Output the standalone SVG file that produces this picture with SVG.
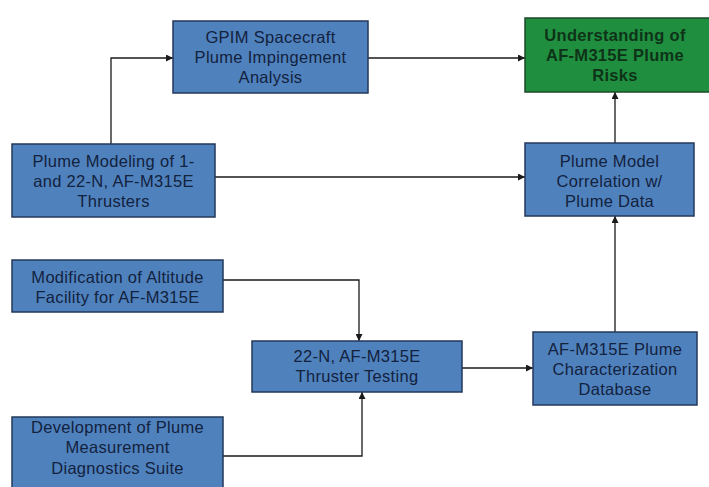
<svg xmlns="http://www.w3.org/2000/svg" width="709" height="487" viewBox="0 0 709 487">
<defs>
<marker id="ah" viewBox="0 0 10 10" refX="10" refY="5" markerWidth="7" markerHeight="7" markerUnits="userSpaceOnUse" orient="auto">
<path d="M0,0 L10,5 L0,10 z" fill="#1a1a1a"/>
</marker>
<style>
.box{fill:#4f81bd;stroke:#24395a;stroke-width:1.5}
.gbox{fill:#1f8f3f;stroke:#1d4a2a;stroke-width:1.5}
.t{font-family:"Liberation Sans",Arial,sans-serif;font-size:16.5px;fill:#13223d;text-anchor:middle;letter-spacing:0.3px}
.gt{font-family:"Liberation Sans",Arial,sans-serif;font-size:16.5px;font-weight:bold;fill:#0e3318;text-anchor:middle;letter-spacing:0.3px}
.c{fill:none;stroke:#1a1a1a;stroke-width:1.3;marker-end:url(#ah)}
</style>
</defs>
<rect width="709" height="487" fill="#ffffff"/>
<g id="connectors">
<path class="c" d="M111,144 V58 H173"/>
<path class="c" d="M368,58 H525"/>
<path class="c" d="M215,177 H525"/>
<path class="c" d="M615,143 V92"/>
<path class="c" d="M615,332 V216"/>
<path class="c" d="M223,280 H359 V341"/>
<path class="c" d="M223,456 H362 V392"/>
<path class="c" d="M462,368 H533"/>
</g>
<g id="gpim">
<rect class="box" x="173" y="21" width="195" height="72"/>
<text class="t" x="270.5" y="43">GPIM Spacecraft</text>
<text class="t" x="270.5" y="63">Plume Impingement</text>
<text class="t" x="270.5" y="83">Analysis</text>
</g>
<g id="understanding">
<rect class="gbox" x="525" y="18" width="190" height="74"/>
<text class="gt" x="615" y="41">Understanding of</text>
<text class="gt" x="615" y="61">AF-M315E Plume</text>
<text class="gt" x="615" y="81">Risks</text>
</g>
<g id="plume-modeling">
<rect class="box" x="12" y="144" width="203" height="73"/>
<text class="t" x="113.5" y="167">Plume Modeling of 1-</text>
<text class="t" x="113.5" y="187">and 22-N, AF-M315E</text>
<text class="t" x="113.5" y="207">Thrusters</text>
</g>
<g id="correlation">
<rect class="box" x="525" y="143" width="169" height="73"/>
<text class="t" x="609.5" y="167">Plume Model</text>
<text class="t" x="609.5" y="187">Correlation w/</text>
<text class="t" x="609.5" y="207">Plume Data</text>
</g>
<g id="modification">
<rect class="box" x="12" y="260" width="211" height="52"/>
<text class="t" x="117.5" y="283">Modification of Altitude</text>
<text class="t" x="117.5" y="303">Facility for AF-M315E</text>
</g>
<g id="testing">
<rect class="box" x="252" y="341" width="210" height="51"/>
<text class="t" x="357" y="362">22-N, AF-M315E</text>
<text class="t" x="357" y="382">Thruster Testing</text>
</g>
<g id="database">
<rect class="box" x="533" y="332" width="164" height="73"/>
<text class="t" x="615" y="355">AF-M315E Plume</text>
<text class="t" x="615" y="375">Characterization</text>
<text class="t" x="615" y="395">Database</text>
</g>
<g id="development">
<rect class="box" x="12" y="417" width="211" height="75"/>
<text class="t" x="117.5" y="433">Development of Plume</text>
<text class="t" x="117.5" y="453">Measurement</text>
<text class="t" x="117.5" y="474">Diagnostics Suite</text>
</g>
</svg>
